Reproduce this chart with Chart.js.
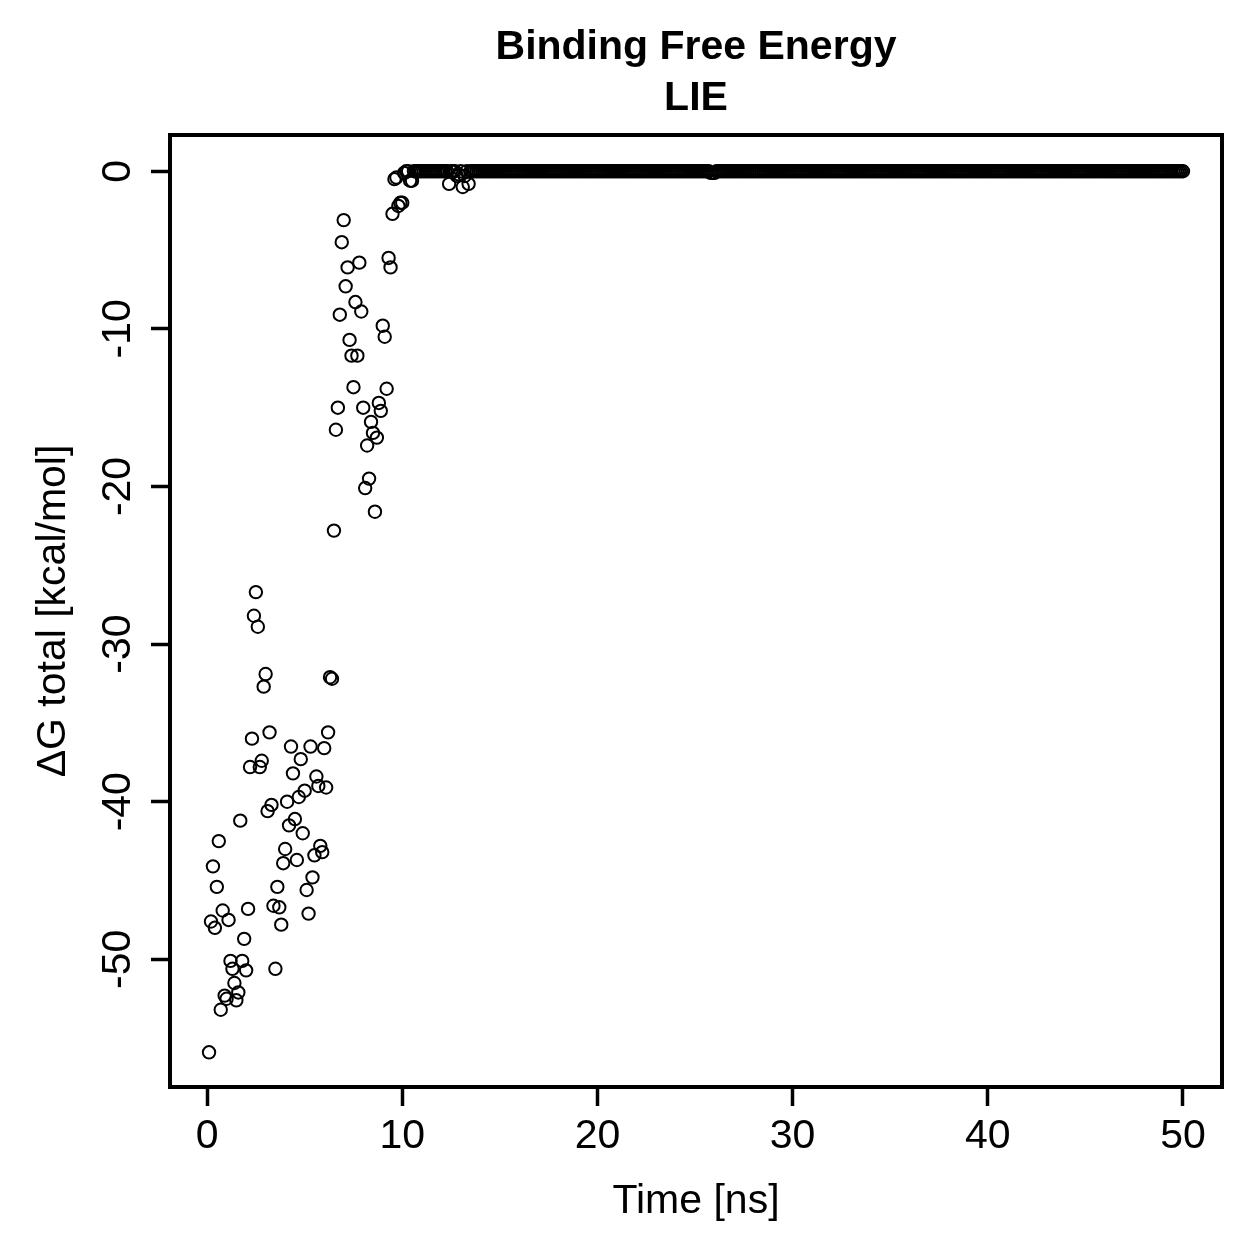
<!DOCTYPE html>
<html>
<head>
<meta charset="utf-8">
<script src="https://cdn.jsdelivr.net/npm/chart.js@4"></script>
<style>
  html, body { margin: 0; padding: 0; background: #fff; }
  #wrap { width: 1259px; height: 1259px; }
</style>
</head>
<body>
<div id="wrap"><canvas id="lieChart"></canvas></div>
<script>
const titleLines = ["Binding Free Energy", "LIE"];
const xTitle = "Time [ns]";
const yTitle = "\u0394G total [kcal/mol]";
const xTicks = [0, 10, 20, 30, 40, 50];
const yTicks = [-50, -40, -30, -20, -10, 0];

// one frame every 0.1 ns, first frame at 0.1 ns
const timeStep = 0.1;

// 0.1 - 10.0 ns
const early = [
  -55.9, -47.6, -44.1, -48.0, -45.4, -42.5, -53.2, -46.9, -52.3, -52.5,
  -47.5, -50.1, -50.6, -51.5, -52.6, -52.1, -41.2, -50.1, -48.7, -50.7,
  -46.8, -37.8, -36.0, -28.2, -26.7, -28.9, -37.8, -37.4, -32.7, -31.9,
  -40.6, -35.6, -40.2, -46.6, -50.6, -45.4, -46.7, -47.8, -43.9, -43.0,
  -40.0, -41.5, -36.5, -38.2, -41.1, -43.7, -39.7, -37.3, -42.0, -39.3,
  -45.6, -47.1, -36.5, -44.8, -43.4, -38.4, -39.0, -42.8, -43.2, -36.6,
  -39.1, -35.6, -32.1, -32.2, -22.8, -16.4, -15.0, -9.1, -4.5, -3.1,
  -7.3, -6.1, -10.7, -11.7, -13.7, -8.3, -11.7, -5.8, -8.9, -15.0,
  -20.1, -17.4, -19.5, -15.9, -16.6, -21.6, -16.9, -14.7, -15.2, -9.8,
  -10.5, -13.8, -5.5, -6.1, -2.7, -0.5, -0.4, -2.2, -2.0, -2.0
];

// 10.1 - 15.0 ns
const settle = [
  -0.1, 0, 0, -0.6, -0.6, 0, 0, 0, 0, 0,
  0, 0, 0, 0, 0, 0, 0, 0, 0, 0,
  0, 0, 0, -0.8, 0, 0, 0, -0.3, -0.2, 0,
  -1.0, -0.3, 0, -0.8, 0, 0, 0, 0, 0, 0,
  0, 0, 0, 0, 0, 0, 0, 0, 0, 0
];

// 15.1 - 50.0 ns
const plateau = [
  0,0,0,0,0,0,0,0,0,0, 0,0,0,0,0,0,0,0,0,0, 0,0,0,0,0,0,0,0,0,0, 0,0,0,0,0,0,0,0,0,0, 0,0,0,0,0,0,0,0,0,0,
  0,0,0,0,0,0,0,0,0,0, 0,0,0,0,0,0,0,0,0,0, 0,0,0,0,0,0,0,0,0,0, 0,0,0,0,0,0,0,0,0,0, 0,0,0,0,0,0,0,0,0,0,
  0,0,0,0,0,0,0,-0.1,-0.1,-0.1, 0,0,0,0,0,0,0,0,0,0, 0,0,0,0,0,0,0,0,0,0, 0,0,0,0,0,0,0,0,0,0, 0,0,0,0,0,0,0,0,0,0,
  0,0,0,0,0,0,0,0,0,0, 0,0,0,0,0,0,0,0,0,0, 0,0,0,0,0,0,0,0,0,0, 0,0,0,0,0,0,0,0,0,0, 0,0,0,0,0,0,0,0,0,0,
  0,0,0,0,0,0,0,0,0,0, 0,0,0,0,0,0,0,0,0,0, 0,0,0,0,0,0,0,0,0,0, 0,0,0,0,0,0,0,0,0,0, 0,0,0,0,0,0,0,0,0,0,
  0,0,0,0,0,0,0,0,0,0, 0,0,0,0,0,0,0,0,0,0, 0,0,0,0,0,0,0,0,0,0, 0,0,0,0,0,0,0,0,0,0, 0,0,0,0,0,0,0,0,0,0,
  0,0,0,0,0,0,0,0,0,0, 0,0,0,0,0,0,0,0,0,0, 0,0,0,0,0,0,0,0,0,0, 0,0,0,0,0,0,0,0,0,0, 0,0,0,0,0,0,0,0,0,0
];

const dgTotal = early.concat(settle, plateau);
const points = dgTotal.map((v, i) => ({ x: +((i + 1) * timeStep).toFixed(1), y: v }));

const FONT = '"Liberation Sans", Arial, Helvetica, sans-serif';

// box, titles and tick labels in the R base-graphics style
const rFrame = {
  id: "rFrame",
  afterDraw(chart) {
    const { ctx, chartArea: a, scales: { x, y } } = chart;
    const cx = (a.left + a.right) / 2;
    ctx.save();
    ctx.strokeStyle = "#000";
    ctx.lineWidth = 4;
    ctx.strokeRect(a.left, a.top, a.right - a.left, a.bottom - a.top);

    ctx.fillStyle = "#000";
    ctx.textAlign = "center";
    ctx.textBaseline = "alphabetic";
    ctx.font = "bold 41px " + FONT;
    titleLines.forEach((t, i) => ctx.fillText(t, cx, 59 + i * 51));

    ctx.font = "41px " + FONT;
    x.ticks.forEach(t => ctx.fillText(String(t.value), x.getPixelForValue(t.value), 1148));
    ctx.fillText(xTitle, cx, 1213);

    y.ticks.forEach(t => {
      ctx.save();
      ctx.translate(130, y.getPixelForValue(t.value));
      ctx.rotate(-Math.PI / 2);
      ctx.fillText(String(t.value), 0, 0);
      ctx.restore();
    });
    ctx.translate(65, (a.top + a.bottom) / 2);
    ctx.rotate(-Math.PI / 2);
    ctx.fillText(yTitle, 0, 0);
    ctx.restore();
  }
};

const tickGrid = {
  display: true,
  drawOnChartArea: false,
  drawTicks: true,
  tickLength: 19,
  tickWidth: 3.5,
  tickColor: "#000",
  color: "#000"
};

new Chart(document.getElementById("lieChart"), {
  type: "scatter",
  data: {
    datasets: [
      {
        data: points,
        showLine: false,
        borderColor: "#000",
        backgroundColor: "rgba(0,0,0,0)"
      }
    ]
  },
  options: {
    responsive: true,
    maintainAspectRatio: false,
    animation: false,
    layout: { padding: { top: 135, right: 37, left: 0, bottom: 0 } },
    elements: {
      point: {
        pointStyle: "circle",
        radius: 6.2,
        hoverRadius: 6.2,
        borderWidth: 2,
        hoverBorderWidth: 2,
        borderColor: "#000",
        backgroundColor: "rgba(0,0,0,0)"
      }
    },
    plugins: {
      legend: { display: false },
      title: { display: false },
      tooltip: { enabled: false }
    },
    scales: {
      x: {
        type: "linear",
        min: -1.9,
        max: 52.0,
        border: { display: false },
        grid: tickGrid,
        ticks: { display: false },
        afterBuildTicks: s => { s.ticks = xTicks.map(v => ({ value: v })); },
        afterFit: s => { s.height = 172; }
      },
      y: {
        type: "linear",
        min: -58.1,
        max: 2.3,
        border: { display: false },
        grid: tickGrid,
        ticks: { display: false },
        afterBuildTicks: s => { s.ticks = yTicks.map(v => ({ value: v })); },
        afterFit: s => { s.width = 170; }
      }
    }
  },
  plugins: [rFrame]
});
</script>
</body>
</html>
